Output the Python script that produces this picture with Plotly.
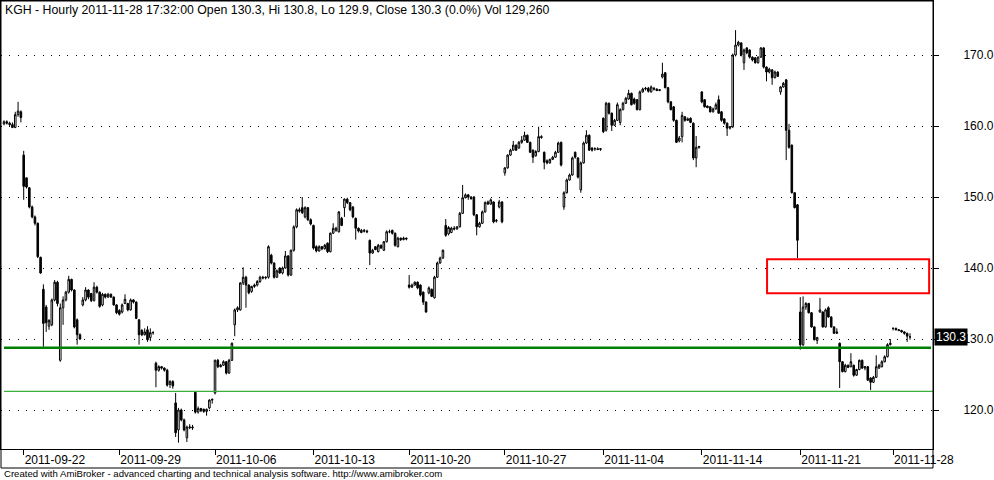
import plotly.graph_objects as go

# ---------------- data (hourly OHLC, KGH) ----------------
opens = [
    160.3,160.6,160.4,160.2,159.8,161.6,162.0,155.9,152.7,151.3,
    148.6,147.2,146.3,141.5,137.0,134.5,131.8,132.0,135.5,138.0,
    127.0,134.4,135.5,136.6,138.4,136.9,132.7,130.6,134.8,135.5,
    136.9,136.4,135.4,137.3,136.6,134.8,136.3,135.9,136.3,135.9,
    134.8,134.0,133.8,135.0,135.0,134.1,135.5,135.2,132.7,131.2,
    130.6,131.3,130.2,130.9,126.6,125.6,126.1,125.9,125.6,123.6,
    124.0,121.0,117.2,120.0,118.6,116.1,117.5,117.6,122.5,119.7,
    120.2,120.1,119.8,120.3,121.4,122.4,127.0,126.1,126.3,126.8,
    125.2,127.0,132.0,134.1,134.1,137.9,138.7,137.6,136.7,137.4,
    137.6,138.1,138.7,138.6,138.7,141.8,140.7,138.7,140.0,139.3,
    140.0,141.7,139.0,142.5,145.8,148.0,148.5,147.2,148.5,146.8,
    146.0,143.0,142.4,143.0,142.7,143.5,142.3,144.9,145.3,145.1,
    147.0,148.5,149.7,149.2,148.6,147.0,145.6,145.0,145.3,145.2,
    143.9,142.1,143.0,142.3,143.2,142.5,143.7,145.1,145.3,144.9,
    143.0,144.2,144.0,144.2,137.6,137.3,137.6,138.0,137.6,136.6,
    135.2,136.5,137.0,135.8,138.7,140.7,141.4,146.0,144.8,145.0,
    145.6,145.5,145.8,147.7,149.9,150.3,150.0,150.0,147.5,145.8,
    146.3,147.9,149.3,149.0,149.3,146.6,148.6,149.3,153.4,154.1,
    155.9,156.6,157.3,156.9,157.7,158.0,158.7,157.7,156.6,155.8,
    156.4,158.5,156.3,155.1,154.8,155.3,155.6,156.3,157.7,148.6,
    150.6,152.4,153.1,156.3,155.5,151.0,154.8,157.6,158.7,156.9,
    156.8,156.8,156.7,161.1,159.4,163.2,161.8,160.1,160.8,160.5,
    162.3,163.2,163.8,164.6,163.8,163.7,162.3,164.8,165.2,165.3,
    164.8,165.3,165.2,165.0,166.9,167.5,165.4,163.4,162.7,160.8,
    157.9,158.5,161.3,160.8,161.1,160.4,155.5,157.0,164.8,163.7,
    162.8,162.7,162.0,162.4,163.7,162.0,161.0,160.4,159.7,159.9,
    170.0,171.4,171.7,168.9,171.0,170.7,169.7,169.6,168.9,169.7,
    171.0,168.3,167.6,167.9,166.8,167.6,164.8,165.5,166.5,159.4,
    157.3,150.6,148.9,133.8,129.2,134.5,135.0,133.7,131.7,129.8,
    133.8,133.8,131.7,134.4,133.1,131.7,130.8,129.4,126.8,125.4,
    126.3,126.1,126.3,124.9,125.7,127.0,125.9,126.1,124.5,123.9,
    124.6,125.9,126.1,126.8,127.5,129.2,131.5,131.5,131.3,131.2,
    131.0,130.8,130.3,
]
highs = [
    160.8,160.8,160.6,160.5,162.0,163.4,162.2,156.5,152.7,151.4,
    148.8,147.4,146.4,141.6,137.7,134.8,132.8,135.7,138.3,138.2,
    135.0,136.0,136.8,138.9,138.5,137.0,132.9,130.8,135.9,137.3,
    137.0,136.5,138.0,137.5,136.7,136.5,136.4,136.5,136.4,136.0,
    134.9,134.2,135.0,136.3,135.1,135.7,135.6,135.3,132.8,131.4,
    131.5,131.8,131.5,131.1,126.8,126.3,126.2,126.0,125.8,124.2,
    124.2,122.4,120.3,120.2,118.8,117.8,118.0,117.9,122.6,120.5,
    120.3,120.2,120.2,121.5,121.6,127.1,127.2,126.5,127.0,126.9,
    127.2,129.5,134.3,134.6,138.0,140.1,138.9,137.7,137.5,137.8,
    138.3,138.9,138.9,138.8,143.2,142.0,140.8,139.8,140.1,140.2,
    142.4,141.8,142.6,146.0,148.4,148.5,150.0,148.7,148.6,147.0,
    146.1,143.2,143.2,143.1,143.4,143.6,145.0,146.3,145.8,148.0,
    147.2,149.8,149.9,149.3,148.7,147.1,145.7,145.5,145.5,145.4,
    144.0,142.7,143.1,143.4,143.3,143.8,145.3,145.4,145.4,145.0,
    144.4,144.3,144.4,144.3,139.0,137.8,138.1,138.1,137.7,136.7,
    135.3,137.4,137.1,138.9,140.9,141.6,142.6,146.9,145.9,145.8,
    145.9,145.9,147.9,151.7,150.5,150.4,150.1,150.1,147.6,146.5,
    148.1,149.4,149.5,149.8,149.4,146.9,149.6,149.4,154.2,156.0,
    156.8,157.9,157.4,157.9,158.6,159.2,158.8,157.8,156.7,156.6,
    159.9,158.7,156.4,155.3,155.4,155.8,156.5,157.8,157.8,150.8,
    152.6,153.3,155.7,156.4,155.6,155.0,157.8,159.4,158.8,157.0,
    157.0,157.0,156.9,161.2,163.4,163.3,161.9,161.0,163.3,162.5,
    163.4,164.1,165.1,164.7,164.0,163.8,165.0,165.4,165.5,165.5,
    165.7,165.5,165.3,165.2,168.9,167.6,165.5,163.5,162.8,160.9,
    158.6,162.0,161.4,161.2,161.2,160.5,158.6,157.2,164.9,163.8,
    162.9,162.8,162.6,163.3,164.3,162.1,161.1,160.5,160.0,170.2,
    173.5,172.0,171.8,170.9,171.1,170.8,169.8,169.7,169.8,171.1,
    171.1,168.4,168.2,168.0,167.8,167.7,165.6,166.2,166.6,160.3,
    157.4,150.7,149.0,135.9,136.0,135.2,135.1,133.8,131.8,130.3,
    135.8,133.9,134.3,134.6,133.2,131.8,131.5,129.5,126.9,126.5,
    126.4,128.0,126.4,125.8,127.1,127.1,126.2,126.2,124.6,124.8,
    127.7,126.5,127.0,127.7,129.4,130.0,131.6,131.6,131.4,131.3,
    131.1,130.9,130.8,
]
lows = [
    160.1,160.2,160.0,159.7,159.7,161.3,160.5,149.6,151.2,148.4,
    147.0,146.0,141.4,139.2,128.9,131.0,131.3,131.8,135.3,134.6,
    126.8,132.0,135.3,136.4,136.7,131.5,129.2,129.9,134.6,135.3,
    135.6,135.2,135.3,136.4,134.4,134.6,135.7,135.8,135.8,134.7,
    133.5,133.3,133.6,134.9,133.9,134.0,135.0,132.8,129.2,130.4,
    130.5,129.6,129.7,130.6,123.2,125.4,125.7,125.4,123.3,123.1,
    123.0,116.2,115.4,118.4,117.0,115.5,117.3,117.2,119.5,119.5,
    119.7,119.6,119.2,120.1,120.9,122.2,125.9,126.0,126.2,125.0,
    125.1,126.9,130.4,133.8,134.0,137.6,134.4,136.3,136.5,137.2,
    137.4,137.9,138.4,138.4,138.5,140.5,138.5,138.6,139.2,139.1,
    139.9,138.8,138.9,142.3,145.6,147.8,147.6,147.0,146.6,146.0,
    142.6,142.2,142.3,142.5,142.6,142.1,142.2,144.8,145.1,145.0,
    145.9,147.2,149.0,148.0,147.0,144.0,145.0,144.9,145.0,144.9,
    140.4,142.0,142.5,142.2,142.7,142.4,143.6,144.9,144.7,143.0,
    142.9,143.8,143.9,143.9,137.1,137.2,137.5,137.0,136.0,134.8,
    133.7,136.3,135.9,135.7,138.6,140.6,141.3,144.4,144.6,144.9,
    145.3,145.4,145.7,147.6,149.8,149.6,149.6,147.3,144.6,145.7,
    146.2,147.8,148.9,148.9,146.3,146.4,148.4,146.3,153.0,154.0,
    155.8,156.5,156.5,156.8,157.5,157.9,157.6,156.2,154.8,155.7,
    156.3,158.2,153.9,154.6,154.7,155.2,155.5,156.2,154.3,148.2,
    150.5,152.3,153.0,155.4,152.6,150.6,154.7,157.5,156.5,156.4,
    156.5,156.6,156.5,159.0,159.2,161.6,159.3,160.0,160.7,160.1,
    162.2,163.1,163.7,162.9,163.0,162.2,162.2,164.7,165.0,164.7,
    164.7,165.0,164.9,164.9,166.7,165.3,163.2,162.2,160.6,157.6,
    157.7,157.7,160.6,160.7,160.4,155.2,154.2,156.8,163.2,162.6,
    162.5,161.9,161.9,162.3,161.7,160.6,160.2,158.6,159.5,159.7,
    169.8,171.2,169.8,167.9,170.1,169.5,169.1,168.8,168.8,169.6,
    168.1,166.3,167.4,165.8,166.7,166.9,164.4,165.4,155.2,156.8,
    150.5,148.4,141.4,128.5,129.0,134.1,133.6,131.6,129.8,129.3,
    133.7,131.6,131.6,133.0,131.6,130.7,130.7,123.1,125.3,125.3,
    125.9,126.0,124.7,124.8,125.6,125.8,125.6,124.1,122.8,123.8,
    124.5,125.8,126.0,126.7,127.4,129.1,131.2,131.2,131.1,130.9,
    130.6,129.6,129.9,
]
closes = [
    160.6,160.4,160.2,159.8,161.6,162.1,161.2,151.5,151.4,148.6,
    147.2,146.3,141.6,139.3,132.2,132.3,132.6,135.5,138.0,135.0,
    134.4,135.5,136.6,138.4,136.9,131.7,130.6,130.0,135.5,136.9,
    135.9,135.4,137.3,136.6,134.6,136.3,135.9,136.3,135.9,134.8,
    133.7,133.5,134.8,135.6,134.1,135.5,135.2,132.9,130.6,130.6,
    131.0,129.9,130.9,130.9,125.6,126.1,125.9,125.6,123.5,124.0,
    123.4,116.8,120.0,118.6,117.2,117.6,117.6,117.5,119.7,120.2,
    119.9,119.8,120.1,121.4,121.5,127.0,126.1,126.3,126.8,125.2,
    127.0,129.4,134.1,134.4,137.9,138.7,137.6,136.5,137.4,137.6,
    138.1,138.7,138.6,138.7,143.0,140.7,138.7,139.6,139.3,140.0,
    141.7,139.0,142.5,145.8,148.2,148.2,147.8,148.5,146.8,146.2,
    142.8,142.4,143.0,142.7,143.2,142.3,144.9,145.6,145.6,147.9,
    146.0,149.7,149.2,148.2,147.2,145.6,145.2,145.3,145.2,145.1,
    142.1,142.5,142.6,143.2,142.8,143.7,145.1,145.1,144.9,143.2,
    144.2,144.0,144.2,144.1,137.3,137.6,138.0,137.2,136.2,135.2,
    133.8,137.2,136.0,138.7,140.7,141.4,142.5,144.6,145.7,145.6,
    145.5,145.8,147.7,149.9,150.3,150.0,149.8,147.5,145.8,146.3,
    147.9,149.2,149.0,149.6,146.5,146.7,149.3,146.5,154.1,155.9,
    156.6,157.3,156.6,157.7,158.0,158.7,157.7,156.3,155.6,156.4,
    158.5,158.4,154.9,154.8,155.3,155.6,156.3,157.6,154.5,150.6,
    152.4,153.1,155.5,155.6,152.8,154.8,157.6,158.7,156.6,156.6,
    156.8,156.7,156.8,159.2,163.2,161.8,160.1,160.8,163.0,162.3,
    163.2,163.9,164.6,163.0,163.2,162.3,164.8,165.2,165.3,164.9,
    165.5,165.2,165.0,165.1,167.3,165.4,163.4,162.3,160.8,157.7,
    158.3,161.5,160.8,161.0,160.5,155.5,157.0,157.1,163.4,162.7,
    162.6,162.0,162.4,163.0,161.8,160.8,160.4,159.7,159.9,170.0,
    171.4,171.8,170.0,170.7,170.3,169.7,169.3,168.9,169.7,171.0,
    168.3,167.6,168.0,166.8,167.6,167.0,165.5,166.0,159.4,157.0,
    150.6,148.5,143.9,129.2,134.5,135.0,133.7,131.7,129.9,130.2,
    134.1,131.7,134.1,133.1,131.7,130.8,131.0,126.8,125.4,126.3,
    126.0,126.8,124.9,125.7,127.0,125.9,126.1,124.2,123.9,124.6,
    126.1,126.3,126.8,127.5,129.2,129.4,131.5,131.3,131.2,131.0,
    130.8,130.4,130.3,
]

# first bar of each labelled session, and its label
tick_bars = [7, 41, 75, 110, 144, 178, 213, 248, 283, 316]
tick_labels = ["2011-09-22", "2011-09-29", "2011-10-06", "2011-10-13", "2011-10-20",
               "2011-10-27", "2011-11-04", "2011-11-14", "2011-11-21", "2011-11-28"]

support_level = 128.77      # thick green line
lower_level = 122.63        # thin green line
gap_zone = (136.44, 141.23) # red rectangle (price range)
gap_zone_bars = (271.2, 328.8)

last_close = 130.3
title_text = ("KGH - Hourly 2011-11-28 17:32:00 Open 130.3, Hi 130.8, Lo 129.9, "
              "Close 130.3 (0.0%) Vol 129,260")
footer_text = ("Created with AmiBroker - advanced charting and technical analysis software. "
               "http://www.amibroker.com")

n = len(closes)
assert len(opens) == len(highs) == len(lows) == n
for i in range(n):
    assert highs[i] >= max(opens[i], closes[i]) and lows[i] <= min(opens[i], closes[i]), i

FONT = "Liberation Sans, Arial, sans-serif"

fig = go.Figure(go.Candlestick(
    x=list(range(n)), open=opens, high=highs, low=lows, close=closes,
    increasing=dict(line=dict(color="black", width=1), fillcolor="white"),
    decreasing=dict(line=dict(color="black", width=1), fillcolor="black"),
    whiskerwidth=0, showlegend=False, hoverinfo="skip",
))

x_pad_left = 1.066
x_range = [-x_pad_left, -x_pad_left + 331.241]

fig.update_layout(
    width=994, height=480,
    margin=dict(l=1, r=61, t=1, b=31, autoexpand=False),
    paper_bgcolor="white", plot_bgcolor="white",
    font=dict(family=FONT, size=12, color="black"),
    showlegend=False,
    boxgap=0.2,
    xaxis=dict(
        range=x_range, rangeslider=dict(visible=False),
        automargin=False,
        showgrid=False, zeroline=False,
        showline=True, mirror=True, linecolor="black", linewidth=1,
        ticks="outside", ticklen=5, tickcolor="black", tickwidth=1,
        tickvals=tick_bars, ticktext=tick_labels,
        ticklabelposition="outside right",
        tickfont=dict(family=FONT, size=12, color="black"),
        fixedrange=True,
    ),
    yaxis=dict(
        range=[114.507, 177.606], side="right",
        automargin=False,
        tick0=0, dtick=10, tickformat=".1f",
        showgrid=True, gridcolor="black", gridwidth=1, griddash="1px,7.3px",
        zeroline=False,
        showline=True, mirror=True, linecolor="black", linewidth=1,
        ticks="outside", ticklen=5, tickcolor="black", tickwidth=1,
        ticklabelstandoff=22,
        tickfont=dict(family=FONT, size=12, color="black"),
        fixedrange=True,
    ),
    shapes=[
        dict(type="line", xref="x", yref="y", x0=0, x1=329.5,
             y0=support_level, y1=support_level, line=dict(color="#008000", width=2.5)),
        dict(type="line", xref="x", yref="y", x0=0, x1=x_range[1],
             y0=lower_level, y1=lower_level, line=dict(color="#3CB03C", width=1.2)),
        dict(type="rect", xref="x", yref="y", x0=gap_zone_bars[0], x1=gap_zone_bars[1],
             y0=gap_zone[0], y1=gap_zone[1], line=dict(color="#FF0000", width=2),
             fillcolor="rgba(0,0,0,0)"),
        dict(type="rect", xref="paper", yref="paper", x0=0, x1=1, y0=-19 / 448, y1=1,
             line=dict(color="black", width=1), fillcolor="rgba(0,0,0,0)", layer="above"),
    ],
    annotations=[
        dict(xref="paper", yref="paper", x=0, y=1, xanchor="left", yanchor="top",
             xshift=2, yshift=0, text=title_text, showarrow=False,
             font=dict(family=FONT, size=12.3, color="black")),
        dict(xref="paper", yref="paper", x=0, y=0, xanchor="left", yanchor="top",
             xshift=1, yshift=-17, text=footer_text, showarrow=False,
             font=dict(family=FONT, size=9.6, color="black")),
        dict(xref="paper", yref="y", x=1, y=last_close, xanchor="left", yanchor="middle",
             xshift=1, text=f"{last_close:.1f}", showarrow=False, bgcolor="black",
             borderpad=1, font=dict(family=FONT, size=12, color="white")),
    ],
)

fig.write_html(
    "out.html",
    config={"displayModeBar": False},
    post_script="document.body.style.margin='0px';document.body.style.padding='0px';"
                "document.body.style.overflow='hidden';",
)
